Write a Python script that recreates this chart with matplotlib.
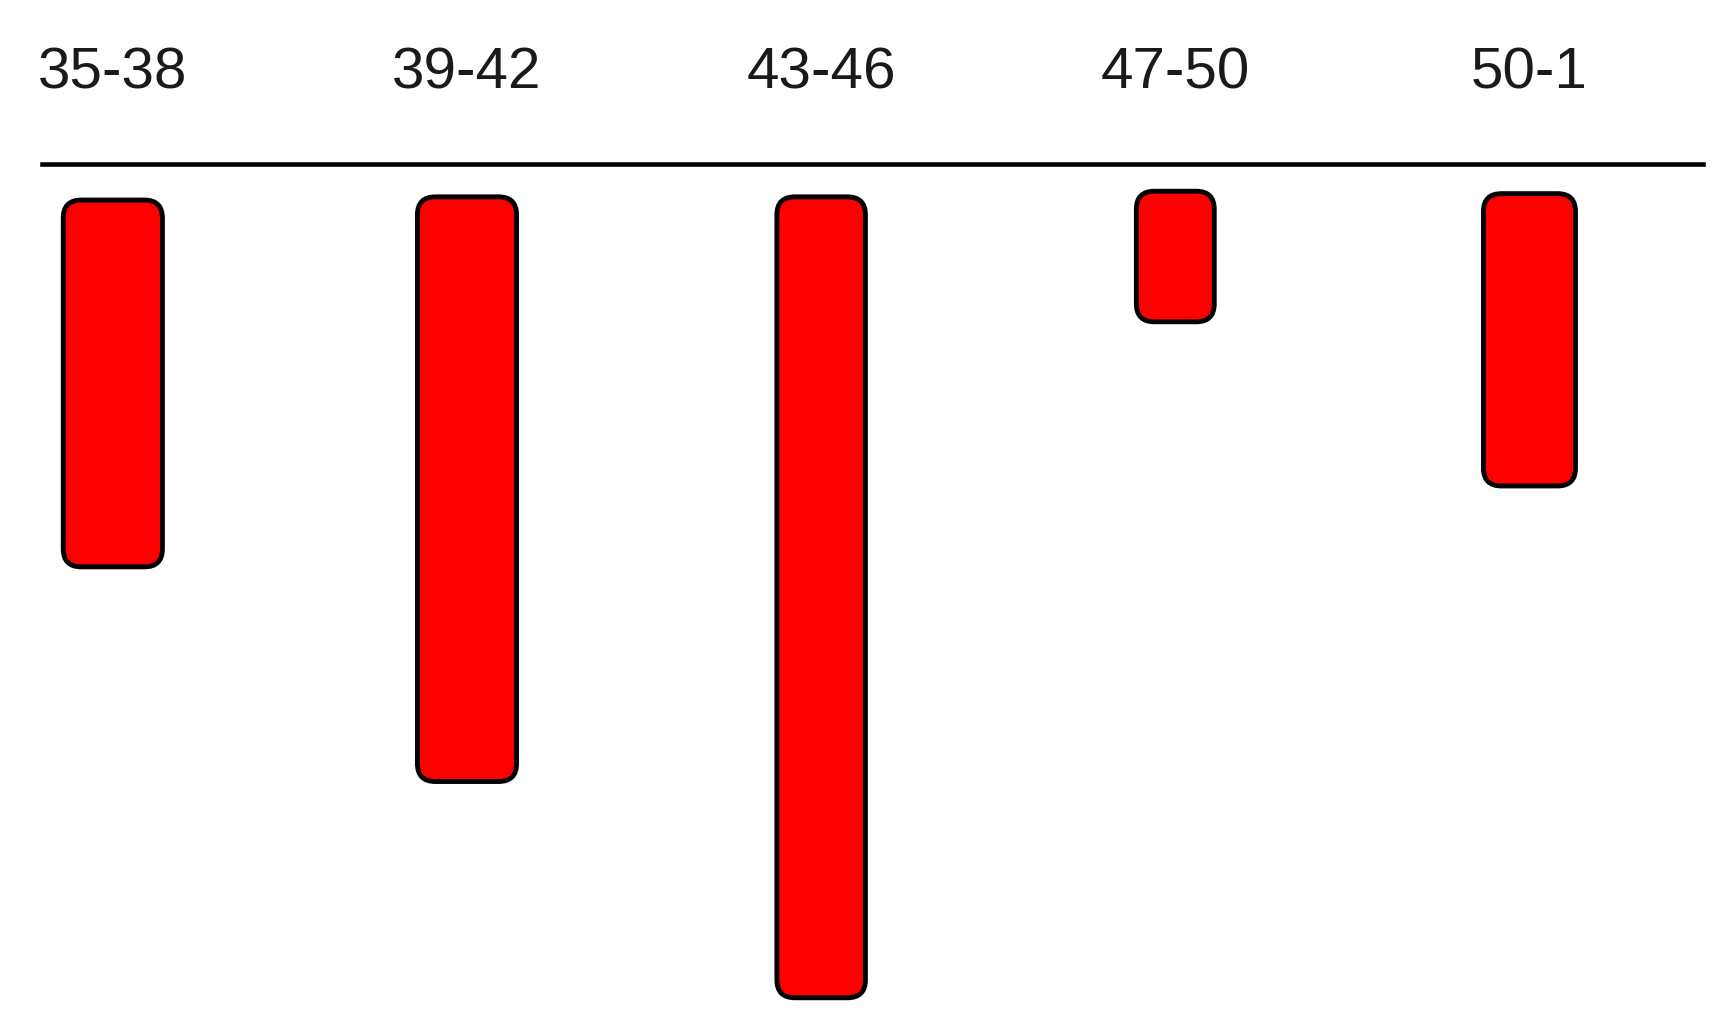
import matplotlib
matplotlib.use('Agg')
import matplotlib.pyplot as plt
from matplotlib.patches import FancyBboxPatch

# age groups and bar lengths (longest = 100)
groups=['35-38','39-42','43-46','47-50','50-1']
lengths=[45.8,73.0,100.0,16.3,36.5]
gaps=[4.5,4.1,4.1,3.4,3.7]
widths=[0.28,0.28,0.25,0.22,0.26]

W,H,dpi=17.23,10.25,100
fig=plt.figure(figsize=(W,H),dpi=dpi)
ax=fig.add_axes([42/1723,0,(1703-42)/1723,1-164/1025])

ax.set_xlim(-0.2,4.49)
ax.set_ylim(107.5,0)

# ratio of y data units to x data units per pixel, to keep the corners round
xpp=(4.49+0.2)/(1703-42)
ypp=107.5/(1025-164)
asp=ypp/xpp
r=18*xpp

for i,(L,g,w) in enumerate(zip(lengths,gaps,widths)):
    p=FancyBboxPatch((i-w/2,g),w,L,
                     boxstyle='round,pad=0,rounding_size=%f'%r,
                     mutation_aspect=asp,
                     facecolor='#ff0000',edgecolor='black',linewidth=3.5)
    ax.add_patch(p)

ax.xaxis.tick_top()
ax.set_xticks(range(len(groups)))
ax.set_xticklabels(groups,family=['Liberation Sans Narrow','Liberation Sans'],
                   fontsize=42,color='#1a1a1a')
ax.tick_params(axis='x',length=0,pad=46)
ax.set_yticks([])
for s in ['left','right','bottom']:
    ax.spines[s].set_visible(False)
ax.spines['top'].set_linewidth(3.3)

fig.savefig('out.png',dpi=dpi)
